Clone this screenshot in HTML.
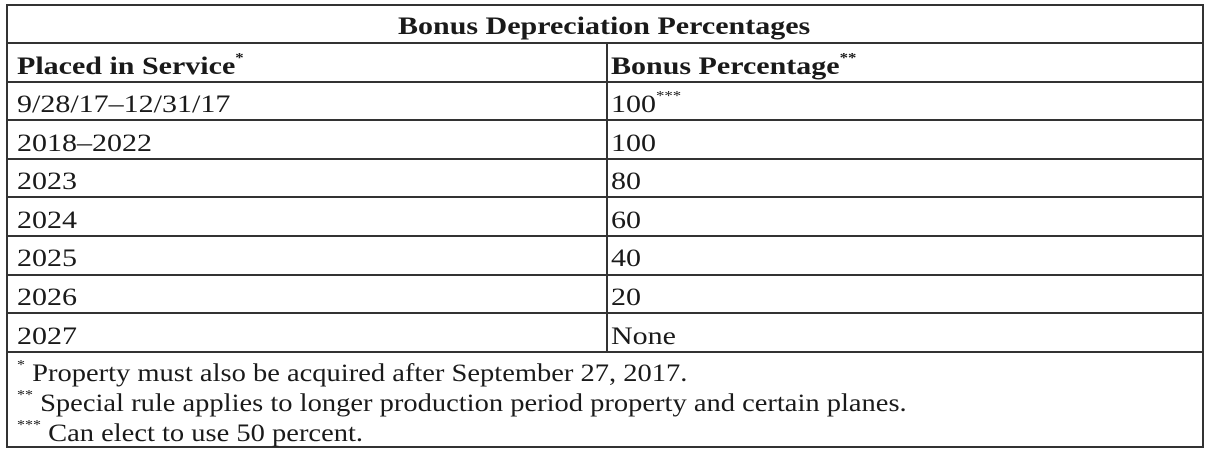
<!DOCTYPE html>
<html><head><meta charset="utf-8"><style>
body{margin:0;width:1209px;height:453px;background:#fff;overflow:hidden;font-family:"Liberation Serif",serif;color:#1a1a1a}
.b{position:absolute;background:#333}
.t{position:absolute;font-size:25px;white-space:nowrap;line-height:1;transform:scaleX(1.2);transform-origin:0 0}
.f{transform:scaleX(1.14)}
.bold{font-weight:bold}
sup{font-size:14px;vertical-align:top;position:relative;top:-2px}
</style></head><body>
<div>
<div class="b" style="left:6px;top:4px;width:1198px;height:2px"></div>
<div class="b" style="left:6px;top:446px;width:1198px;height:2px"></div>
<div class="b" style="left:6px;top:4px;width:2px;height:444px"></div>
<div class="b" style="left:1202px;top:4px;width:2px;height:444px"></div>
<div class="b" style="left:606px;top:43px;width:2px;height:309px"></div>
<div id="lines"></div>
<div class="t bold" style="left:398px;top:14px">Bonus Depreciation Percentages</div>
<div class="t bold" style="left:17px;top:54px">Placed in Service<sup>*</sup></div>
<div class="t bold" style="left:611px;top:54px">Bonus Percentage<sup>**</sup></div>
<div id="rows"></div>
<div class="t f" style="left:17px;top:361px"><sup>*</sup> Property must also be acquired after September 27, 2017.</div>
<div class="t f" style="left:17px;top:391px"><sup>**</sup> Special rule applies to longer production period property and certain planes.</div>
<div class="t f" style="left:17px;top:421px"><sup>***</sup> Can elect to use 50 percent.</div>
</div>
<script>
const periods=["9/28/17–12/31/17","2018–2022","2023","2024","2025","2026","2027"];
const percents=["100<sup>***</sup>","100","80","60","40","20","None"];
const lines=document.getElementById('lines'),rows=document.getElementById('rows');
for(let i=0;i<9;i++){
  const y=Math.round(42+i*38.6);
  const d=document.createElement('div');d.className='b';
  
  
  d.style.cssText=`left:6px;top:${y}px;width:1198px;height:2px`;lines.appendChild(d);
}
periods.forEach((p,i)=>{
  const y=Math.round(81+i*38.6+11);
  const a=document.createElement('div');a.className='t';
  
  
  a.style.cssText=`left:17px;top:${y}px`;a.innerHTML=p;rows.appendChild(a);
  const b=document.createElement('div');b.className='t';
  
  
  b.style.cssText=`left:611px;top:${y}px`;b.innerHTML=percents[i];rows.appendChild(b);
});
</script>
</body></html>
